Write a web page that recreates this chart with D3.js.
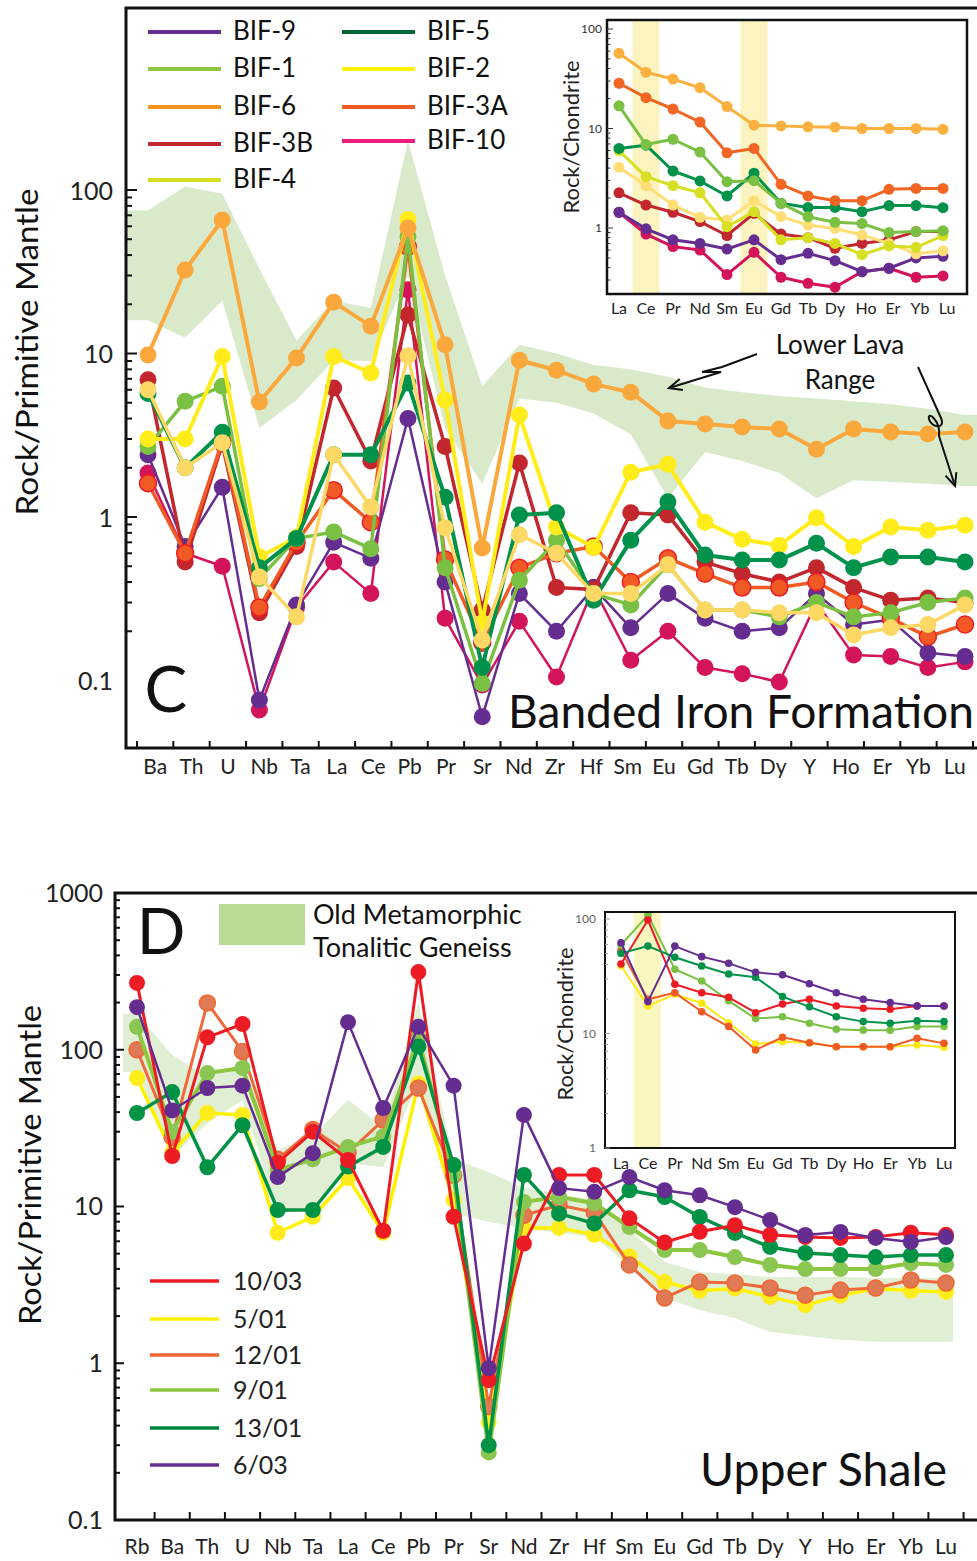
<!DOCTYPE html>
<html>
<head>
<meta charset="utf-8">
<script src="https://cdn.jsdelivr.net/npm/d3@7"></script>
<style>
  body { margin: 0; background: #fff; }
  svg { display: block; font-family: Lato, "Open Sans", sans-serif; }
</style>
</head>
<body>
<svg id="chart" width="977" height="1561"></svg>
<script>
// ---------- Panel C: Banded Iron Formation (normalised to primitive mantle) ----------
const catsC = ["Ba","Th","U","Nb","Ta","La","Ce","Pb","Pr","Sr","Nd","Zr","Hf","Sm","Eu","Gd","Tb","Dy","Y","Ho","Er","Yb","Lu"];
const namesC = ["BIF-9","BIF-1","BIF-6","BIF-3B","BIF-4","BIF-5","BIF-2","BIF-3A","BIF-10"];

const bif9  = [2.4, 0.66, 1.52, 0.076, 0.29, 0.70, 0.56, 4.0, 0.40, 0.06, 0.34, 0.20, 0.37, 0.21, 0.34, 0.24, 0.20, 0.21, 0.34, 0.22, 0.235, 0.148, 0.14];
const bif1  = [2.7, 5.1, 6.3, 0.42, 0.74, 0.81, 0.64, 52, 0.49, 0.096, 0.41, 0.72, 0.34, 0.29, 0.51, 0.27, 0.27, 0.245, 0.30, 0.245, 0.26, 0.30, 0.32];
const bif6  = [9.8, 32.4, 65.6, 5.05, 9.4, 20.6, 14.7, 58.6, 11.3, 0.646, 9.1, 7.9, 6.5, 5.8, 3.87, 3.7, 3.55, 3.45, 2.6, 3.45, 3.31, 3.22, 3.31];
const bif3B = [6.9, 0.53, 2.8, 0.26, 0.66, 6.15, 2.2, 17.2, 2.7, 0.27, 2.14, 0.37, 0.36, 1.06, 1.03, 0.53, 0.45, 0.40, 0.49, 0.37, 0.31, 0.32, 0.30];
const bif4  = [6.0, 2.0, 2.85, 0.43, 0.245, 2.4, 1.15, 9.7, 0.86, 0.177, 0.78, 0.6, 0.34, 0.34, 0.51, 0.27, 0.27, 0.26, 0.26, 0.19, 0.21, 0.22, 0.29];
const bif5  = [5.7, 2.0, 3.3, 0.49, 0.74, 2.4, 2.4, 6.6, 1.32, 0.12, 1.03, 1.06, 0.31, 0.72, 1.24, 0.585, 0.545, 0.545, 0.69, 0.49, 0.57, 0.57, 0.53];
const bif2  = [3.0, 3.0, 9.6, 0.57, 0.75, 9.6, 7.6, 66, 5.2, 0.225, 4.2, 0.87, 0.65, 1.88, 2.1, 0.93, 0.73, 0.67, 0.99, 0.66, 0.87, 0.83, 0.89];
const bif3A = [1.61, 0.6, 2.9, 0.28, 0.7, 1.46, 0.93, 45, 0.55, 0.17, 0.49, 0.6, 0.66, 0.40, 0.56, 0.45, 0.37, 0.37, 0.40, 0.30, 0.24, 0.185, 0.22];
const bif10 = [1.86, 0.6, 0.50, 0.066, 0.28, 0.53, 0.34, 24.5, 0.24, 0.094, 0.23, 0.105, 0.37, 0.133, 0.20, 0.12, 0.11, 0.098, 0.30, 0.143, 0.14, 0.12, 0.13];

// Lower Lava range envelope
const lavaHigh = [75, 105, 95, 33, 12, 21, 19, 200, 30, 6.3, 11.3, 10, 8.5, 8, 7.2, 6.2, 5.8, 5.5, 5.3, 5.1, 4.9, 4.6, 4.2];
const lavaLow  = [16, 12.5, 21, 3.5, 5.2, 9.1, 9, 30, 3.5, 1.6, 5.3, 5, 4.3, 3.2, 1.3, 2.5, 2.2, 1.86, 1.3, 1.68, 1.64, 1.6, 1.55];

// REE inset (chondrite normalised)
const ree = ["La","Ce","Pr","Nd","Sm","Eu","Gd","Tb","Dy","Ho","Er","Yb","Lu"];
const insC_bif6  = [57, 36.7, 31.4, 25.7, 16.6, 10.8, 10.6, 10.4, 10.3, 10.0, 10.0, 10.0, 9.8];
const insC_bif3A = [28.5, 20.4, 15.7, 11.6, 5.7, 6.3, 2.75, 2.1, 1.88, 1.88, 2.45, 2.5, 2.5];
const insC_bif1  = [16.9, 6.9, 7.8, 5.8, 2.92, 2.99, 1.77, 1.3, 1.14, 1.11, 0.90, 0.92, 0.94];
const insC_bif5  = [6.3, 6.8, 3.74, 2.97, 2.1, 3.55, 1.77, 1.61, 1.61, 1.46, 1.68, 1.68, 1.6];
const insC_bif2  = [6.0, 3.28, 2.66, 2.26, 1.03, 1.46, 0.76, 0.80, 0.70, 0.54, 0.66, 0.64, 0.84];
const insC_bif4  = [4.07, 2.66, 1.70, 1.28, 1.2, 1.88, 1.3, 1.07, 0.99, 0.85, 0.70, 0.55, 0.59];
const insC_bif3B = [2.26, 1.70, 1.44, 1.16, 0.84, 1.40, 0.87, 0.80, 0.625, 0.70, 0.76, 0.92, 0.92];
const insC_bif9  = [1.44, 0.98, 0.76, 0.70, 0.615, 0.76, 0.48, 0.556, 0.47, 0.364, 0.394, 0.50, 0.52];
const insC_bif10 = [1.44, 0.87, 0.65, 0.60, 0.34, 0.57, 0.32, 0.278, 0.254, 0.364, 0.394, 0.32, 0.33];

// ---------- Panel D: Upper Shale ----------
const catsD = ["Rb","Ba","Th","U","Nb","Ta","La","Ce","Pb","Pr","Sr","Nd","Zr","Hf","Sm","Eu","Gd","Tb","Dy","Y","Ho","Er","Yb","Lu"];
const namesD = ["10/03","5/01","12/01","9/01","13/01","6/03"];

const s1003 = [267, 21, 120, 146, 19, 30, 19.8, 7, 313, 8.6, 0.78, 5.8, 15.9, 15.9, 8.4, 5.9, 6.9, 7.6, 6.6, 6.4, 6.3, 6.4, 6.8, 6.6];
const s501  = [66, 22, 39.5, 38.4, 6.8, 8.6, 15.2, 6.8, 61, 11, 0.42, 7.3, 7.3, 6.6, 4.8, 3.3, 2.9, 3.0, 2.65, 2.35, 2.7, 3.0, 2.9, 2.85];
const s1201 = [100, 27.7, 199, 97.5, 20, 31, 22, 35.6, 57, 15.8, 0.53, 8.8, 10.2, 9.2, 4.24, 2.61, 3.3, 3.25, 3.02, 2.72, 2.93, 3.02, 3.4, 3.25];
const s901  = [140, 30, 71, 76.6, 17.1, 20, 24, 28, 119, 16, 0.27, 10.7, 11.5, 10.5, 7.4, 5.28, 5.28, 4.76, 4.24, 3.99, 3.99, 3.99, 4.35, 4.24];
const s1301 = [39.5, 53.7, 17.8, 33, 9.5, 9.5, 18, 24, 105, 18.4, 0.3, 15.9, 9.0, 7.8, 12.7, 11.5, 8.57, 6.78, 5.52, 5.05, 4.9, 4.76, 4.9, 4.9];
const s603  = [187, 41, 57, 59, 15.4, 21.9, 150, 42.5, 140, 59, 0.93, 38.4, 13.1, 12.4, 15.4, 12.7, 11.8, 9.9, 8.2, 6.58, 6.88, 6.3, 5.94, 6.38];

// Old Metamorphic Tonalitic Gneiss envelope
const gneissHigh = [170, 93, 67, 78, 23, 28, 48, 32, 200, 20, 16.6, 13.1, 12, 11, 7.1, 4.43, 3.82, 3.7, 3.55, 3.55, 3.55, 3.5, 3.5, 3.5];
const gneissLow  = [72, 20.7, 34, 47.6, 9.1, 9.5, 18.9, 17.8, 64, 9, 8, 7.2, 6.8, 6.4, 4.17, 2.61, 2.19, 1.94, 1.58, 1.49, 1.41, 1.37, 1.37, 1.37];

const insD_603  = [62, 19, 58, 46.9, 41, 34.2, 32.6, 27.2, 22.7, 19.9, 18.6, 17.4, 17.4];
const insD_1301 = [50.1, 58, 46.3, 38.9, 33.1, 31, 21, 17.1, 14, 12.7, 12.3, 12.9, 12.7];
const insD_901  = [59.3, 108, 36.4, 28.7, 19.3, 13.5, 14, 12.3, 10.9, 10.7, 10.7, 11.5, 11.5];
const insD_1003 = [40.5, 98, 26.9, 22.7, 20.7, 15.2, 18.1, 19.9, 17.4, 16.6, 16.3, 17.4, 17.4];
const insD_1201 = [52.9, 19.9, 22.7, 15.5, 11.5, 7.18, 9.27, 8.3, 7.67, 7.67, 7.67, 9.08, 8.2];
const insD_501  = [39.1, 17.4, 22, 18.4, 12.4, 8.1, 8.48, 8.3, 7.67, 7.67, 7.67, 7.94, 7.57];

const yTickLabels = ["0.1", "1", "10", "100", "1000"];

// ---------- styling ----------
const colC = {
  "BIF-9":  {line: "#662D91", fill: "#662D91", legend: "#662D91", w: 2.5},
  "BIF-1":  {line: "#7AC143", fill: "#7AC143", legend: "#8DC63F", w: 3.5},
  "BIF-6":  {line: "#FAA73C", fill: "#FAA73C", legend: "#F7941D", w: 4},
  "BIF-3B": {line: "#C1272D", fill: "#C1272D", legend: "#C1272D", w: 3.5},
  "BIF-4":  {line: "#FDD865", fill: "#FDD865", legend: "#D7DF23", w: 3.5},
  "BIF-5":  {line: "#00924A", fill: "#00924A", legend: "#006837", w: 4},
  "BIF-2":  {line: "#FFEC1A", fill: "#FFEC1A", legend: "#FFF200", w: 4},
  "BIF-3A": {line: "#F15A24", fill: "#F15A24", stroke: "#ED1C24", legend: "#F15A24", w: 3.5},
  "BIF-10": {line: "#D4145A", fill: "#D4145A", legend: "#EC1E79", w: 2.5}
};
const colD = {
  "10/03": {line: "#ED1C24", fill: "#ED1C24", w: 3},
  "5/01":  {line: "#FFF200", fill: "#FFEC1A", w: 3.5},
  "12/01": {line: "#EE6A3C", fill: "#DF7A55", stroke: "#F26531", legend: "#F26531", w: 3},
  "9/01":  {line: "#8DC63F", fill: "#8CC652", w: 4},
  "13/01": {line: "#009245", fill: "#009245", legend: "#00843D", w: 3.5},
  "6/03":  {line: "#662D91", fill: "#662D91", w: 2.5}
};

const svg = d3.select("#chart");
svg.append("rect").attr("width", 977).attr("height", 1561).attr("fill", "#fff");

function text(g, x, y, s, size, anchor = "start", fill = "#111") {
  return g.append("text").attr("x", x).attr("y", y).attr("dy", "0.35em")
    .attr("font-size", size).attr("text-anchor", anchor).attr("fill", fill).text(s);
}

function drawSeries(g, x, y, cats, vals, c, r) {
  const pts = cats.map((k, i) => [x(k), y(vals[i])]);
  g.append("path").attr("d", d3.line()(pts)).attr("fill", "none")
    .attr("stroke", c.line).attr("stroke-width", c.w).attr("stroke-linejoin", "round");
  g.selectAll(null).data(pts).join("circle")
    .attr("cx", d => d[0]).attr("cy", d => d[1]).attr("r", r)
    .attr("fill", c.fill)
    .attr("stroke", c.stroke || "none").attr("stroke-width", c.stroke ? 1.5 : 0);
}

function band(g, x, cats, lo, hi, y, fill, extend) {
  const pts = cats.map((k, i) => ({x: x(k), lo: lo[i], hi: hi[i]}));
  if (extend) {
    pts.unshift({x: extend[0], lo: lo[0], hi: hi[0]});
    pts.push({x: extend[1], lo: lo[lo.length - 1], hi: hi[hi.length - 1]});
  }
  g.append("path")
    .attr("d", d3.area().x(d => d.x).y0(d => y(d.lo)).y1(d => y(d.hi))(pts))
    .attr("fill", fill);
}

function leftTicks(g, y, x0, lo, hi, major, minor, color = "#111", sw = 2) {
  d3.scaleLog().domain([lo, hi]).ticks().filter(v => v >= lo && v <= hi).forEach(v => {
    const lg = Math.log10(v);
    const isMajor = Math.abs(lg - Math.round(lg)) < 1e-6;
    g.append("line").attr("x1", x0).attr("x2", x0 + (isMajor ? major : minor))
      .attr("y1", y(v)).attr("y2", y(v)).attr("stroke", color).attr("stroke-width", sw);
  });
}

function arrowHead(g, tip, from, len = 14, ang = 0.42) {
  const a = Math.atan2(from[1] - tip[1], from[0] - tip[0]);
  const p1 = [tip[0] + len * Math.cos(a + ang), tip[1] + len * Math.sin(a + ang)];
  const p2 = [tip[0] + len * Math.cos(a - ang), tip[1] + len * Math.sin(a - ang)];
  g.append("path").attr("d", d3.line()([p1, tip, p2]))
    .attr("fill", "none").attr("stroke", "#111").attr("stroke-width", 2);
}

// =================== PANEL C ===================
const gC = svg.append("g");
const frameC = {left: 126, top: 8, right: 977, bottom: 748};
const yC = d3.scaleLog().domain([1, 100]).range([517, 190]);
const xC = d3.scalePoint().domain(catsC).range([148, 965]);
const bandC = d3.scaleBand().domain(catsC).range([137, 973]);

band(gC, xC, catsC, lavaLow, lavaHigh, yC, "#D9EACB", [frameC.left + 1, frameC.right]);

const seriesC = {"BIF-9": bif9, "BIF-1": bif1, "BIF-6": bif6, "BIF-3B": bif3B, "BIF-4": bif4,
                 "BIF-5": bif5, "BIF-2": bif2, "BIF-3A": bif3A, "BIF-10": bif10};
["BIF-10", "BIF-9", "BIF-3B", "BIF-3A", "BIF-1", "BIF-2", "BIF-5", "BIF-4", "BIF-6"].forEach(n =>
  drawSeries(gC, xC, yC, catsC, seriesC[n], colC[n], 8.5));

// frame and axes
gC.append("path").attr("d", `M${frameC.right},${frameC.top}H${frameC.left}V${frameC.bottom}H${frameC.right}`)
  .attr("fill", "none").attr("stroke", "#111").attr("stroke-width", 3);
leftTicks(gC, yC, frameC.left, 0.2, 100, 11, 6);
[...catsC.map(c => bandC(c)), bandC.range()[1]].forEach(xv =>
  gC.append("line").attr("x1", xv).attr("x2", xv).attr("y1", frameC.bottom).attr("y2", frameC.bottom - 7)
    .attr("stroke", "#111").attr("stroke-width", 2));
catsC.forEach(c => text(gC, bandC(c) + bandC.bandwidth() / 2, 767, c, 21, "middle", "#222"));
[0.1, 1, 10, 100].forEach((v, i) => text(gC, 113, yC(v) + 1, yTickLabels[i], 25, "end", "#222"));
gC.append("text").attr("transform", "translate(27,352) rotate(-90)").attr("dy", "0.35em")
  .attr("text-anchor", "middle").attr("font-size", 30).attr("fill", "#111")
  .attr("textLength", 327).attr("lengthAdjust", "spacingAndGlyphs").text("Rock/Primitive Mantle");

// legend
const legRowsC = [[148, 32, "BIF-9"], [148, 69, "BIF-1"], [148, 107, "BIF-6"], [148, 144, "BIF-3B"], [148, 180, "BIF-4"],
                  [342, 32, "BIF-5"], [342, 69, "BIF-2"], [342, 107, "BIF-3A"], [342, 141, "BIF-10"]];
legRowsC.forEach(([x, y, n]) => {
  gC.append("line").attr("x1", x).attr("x2", x + 73).attr("y1", y).attr("y2", y)
    .attr("stroke", colC[n].legend).attr("stroke-width", 4);
  text(gC, x + 85, y - 1, n, 26);
});

// annotations
text(gC, 166, 690, "C", 64, "middle");
gC.append("text").attr("x", 508).attr("y", 728).attr("font-size", 46).attr("fill", "#111")
  .attr("textLength", 466).attr("lengthAdjust", "spacingAndGlyphs").text("Banded Iron Formation");
text(gC, 840, 345, "Lower Lava", 26, "middle");
text(gC, 840, 380, "Range", 26, "middle");
gC.append("path").attr("d", "M757,354L722,367L702,372L721,372L669,388")
  .attr("fill", "none").attr("stroke", "#111").attr("stroke-width", 2);
arrowHead(gC, [669, 388], [700, 379]);
gC.append("path").attr("d", "M918,367L941,418C946,430 931,428 929,419C927,410 941,421 939,436L955,486")
  .attr("fill", "none").attr("stroke", "#111").attr("stroke-width", 2);
arrowHead(gC, [955, 486], [949, 468]);

// ---- inset C ----
const iC = {left: 607, top: 20, right: 967, bottom: 294};
const yCi = d3.scaleLog().domain([1, 100]).range([228, 29]);
const xCi = d3.scalePoint().domain(ree).range([619, 943]);
const gCi = gC.append("g");
gCi.append("rect").attr("x", iC.left).attr("y", iC.top).attr("width", iC.right - iC.left)
  .attr("height", iC.bottom - iC.top).attr("fill", "#fff");
["Ce", "Eu"].forEach(k => gCi.append("rect").attr("x", xCi(k) - 13.5).attr("y", iC.top)
  .attr("width", 27).attr("height", iC.bottom - iC.top).attr("fill", "#FBF4C0"));
const insetC = [[insC_bif10, "#D4145A"], [insC_bif9, "#662D91"], [insC_bif3B, "#C1272D"], [insC_bif4, "#FFDE75"],
                [insC_bif2, "#D7DF23"], [insC_bif5, "#00924A"], [insC_bif1, "#7AC143"],
                [insC_bif3A, "#F26522"], [insC_bif6, "#FBB040"]];
insetC.forEach(([v, c]) => drawSeries(gCi, xCi, yCi, ree, v, {line: c, fill: c, w: 3}, 5.5));
gCi.append("rect").attr("x", iC.left).attr("y", iC.top).attr("width", iC.right - iC.left)
  .attr("height", iC.bottom - iC.top).attr("fill", "none").attr("stroke", "#111").attr("stroke-width", 2.5);
leftTicks(gCi, yCi, iC.left, yCi.invert(iC.bottom), yCi.invert(iC.top), 6, 3.5, "#333", 1);
[1, 10, 100].forEach((v, i) => text(gCi, 602, yCi(v), yTickLabels[i + 1], 12, "end", "#333"));
ree.forEach(k => text(gCi, xCi(k) + (ree.indexOf(k) > 8 ? 4 : 0), 308, k, 16, "middle", "#222"));
gCi.append("text").attr("transform", "translate(572,137) rotate(-90)").attr("dy", "0.35em")
  .attr("text-anchor", "middle").attr("font-size", 21).attr("fill", "#222")
  .attr("textLength", 153).attr("lengthAdjust", "spacingAndGlyphs").text("Rock/Chondrite");

// =================== PANEL D ===================
const gD = svg.append("g");
const frameD = {left: 115, top: 893, right: 977, bottom: 1520};
const yD = d3.scaleLog().domain([1, 1000]).range([1363.25, 893]);
const xD = d3.scalePoint().domain(catsD).range([137, 946]);

band(gD, xD, catsD, gneissLow, gneissHigh, yD, "#E0EED3", [frameD.left + 8, 953]);

const seriesD = {"10/03": s1003, "5/01": s501, "12/01": s1201, "9/01": s901, "13/01": s1301, "6/03": s603};
["5/01", "12/01", "9/01", "13/01", "10/03", "6/03"].forEach(n =>
  drawSeries(gD, xD, yD, catsD, seriesD[n], colD[n], 8));

gD.append("path").attr("d", `M${frameD.right},${frameD.top}H${frameD.left}V${frameD.bottom}H${frameD.right}`)
  .attr("fill", "none").attr("stroke", "#111").attr("stroke-width", 3);
leftTicks(gD, yD, frameD.left, 0.2, 1000, 9, 5);
const stepD = xD.step();
[...d3.pairs(catsD).map(([a, b]) => (xD(a) + xD(b)) / 2), xD("Lu") + stepD / 2].forEach(xv =>
  gD.append("line").attr("x1", xv).attr("x2", xv).attr("y1", frameD.bottom).attr("y2", frameD.bottom - 8)
    .attr("stroke", "#111").attr("stroke-width", 2));
catsD.forEach(c => text(gD, xD(c), 1547, c, 21, "middle", "#222"));
[0.1, 1, 10, 100, 1000].forEach((v, i) => text(gD, 103, yD(v), yTickLabels[i], 25, "end", "#222"));
gD.append("text").attr("transform", "translate(30,1165) rotate(-90)").attr("dy", "0.35em")
  .attr("text-anchor", "middle").attr("font-size", 30).attr("fill", "#111")
  .attr("textLength", 320).attr("lengthAdjust", "spacingAndGlyphs").text("Rock/Primitive Mantle");

// legend
const legRowsD = [1281, 1319, 1355, 1390, 1428, 1465];
namesD.forEach((n, i) => {
  gD.append("line").attr("x1", 150).attr("x2", 219).attr("y1", legRowsD[i]).attr("y2", legRowsD[i])
    .attr("stroke", colD[n].legend || colD[n].line).attr("stroke-width", 3.5);
  text(gD, 233, legRowsD[i], n, 25, "start", "#222");
});
gD.append("rect").attr("x", 219).attr("y", 904).attr("width", 86).attr("height", 41).attr("fill", "#B9DA95");
text(gD, 313, 915, "Old Metamorphic", 27);
text(gD, 313, 948, "Tonalitic Geneiss", 27);
text(gD, 161, 932, "D", 64, "middle");
gD.append("text").attr("x", 700).attr("y", 1486).attr("font-size", 46).attr("fill", "#111")
  .attr("textLength", 247).attr("lengthAdjust", "spacingAndGlyphs").text("Upper Shale");

// ---- inset D ----
const iD = {left: 605, top: 912, right: 955, bottom: 1148};
const yDi = d3.scaleLog().domain([1, 100]).range([1148, 919]);
const xDi = d3.scalePoint().domain(ree).range([621, 944]);
const gDi = gD.append("g");
gDi.append("rect").attr("x", iD.left).attr("y", iD.top).attr("width", iD.right - iD.left)
  .attr("height", iD.bottom - iD.top).attr("fill", "#fff");
gDi.append("rect").attr("x", xDi("Ce") - 14).attr("y", iD.top).attr("width", 27)
  .attr("height", iD.bottom - iD.top).attr("fill", "#FAF6C0");
const insetD = [[insD_501, "#FFE816"], [insD_1201, "#F15A24"], [insD_901, "#7AC143"],
                [insD_1003, "#ED1C24"], [insD_1301, "#00924A"], [insD_603, "#662D91"]];
insetD.forEach(([v, c]) => drawSeries(gDi, xDi, yDi, ree, v, {line: c, fill: c, w: 2}, 3.8));
gDi.append("rect").attr("x", iD.left).attr("y", iD.top).attr("width", iD.right - iD.left)
  .attr("height", iD.bottom - iD.top).attr("fill", "none").attr("stroke", "#111").attr("stroke-width", 2);
leftTicks(gDi, yDi, iD.left, 1, yDi.invert(iD.top), 5, 3, "#999", 1);
[1, 10, 100].forEach((v, i) => text(gDi, 596, yDi(v), yTickLabels[i + 1], 12, "end", "#666"));
ree.forEach(k => text(gDi, xDi(k), 1163, k, 16, "middle", "#222"));
gDi.append("text").attr("transform", "translate(566,1024) rotate(-90)").attr("dy", "0.35em")
  .attr("text-anchor", "middle").attr("font-size", 21).attr("fill", "#222")
  .attr("textLength", 153).attr("lengthAdjust", "spacingAndGlyphs").text("Rock/Chondrite");
</script>
</body>
</html>
